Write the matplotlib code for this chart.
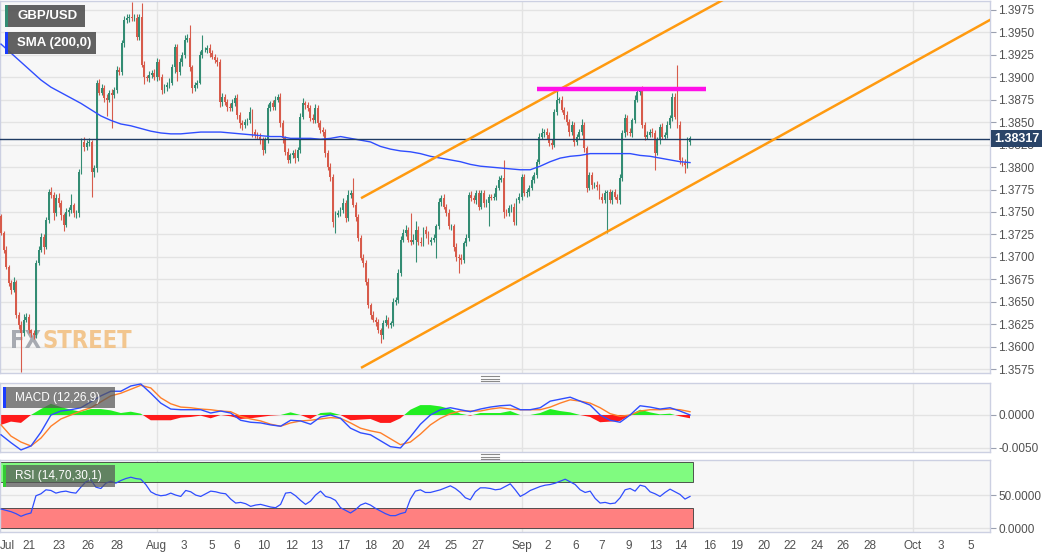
import numpy as np
import matplotlib
matplotlib.use('Agg')
from matplotlib import pyplot as plt
from matplotlib.lines import Line2D
from matplotlib.patches import Rectangle
from matplotlib.ticker import FormatStrFormatter

plt.rcParams['font.family'] = ['Liberation Sans', 'DejaVu Sans']

# GBP/USD 4H candles (open = previous close)
first_open = 1.3745
closes = [
    1.3727, 1.3708, 1.3689, 1.3671, 1.3663, 1.3672, 1.3635, 1.3624, 1.3615, 1.3630,
    1.3633, 1.3618, 1.3615, 1.3613, 1.3693, 1.3708, 1.3722, 1.3711, 1.3741, 1.3772,
    1.3769, 1.3749, 1.3766, 1.3760, 1.3747, 1.3736, 1.3750, 1.3752, 1.3758, 1.3749,
    1.3749, 1.3795, 1.3828, 1.3822, 1.3827, 1.3828, 1.3795, 1.3799, 1.3894, 1.3883,
    1.3888, 1.3877, 1.3875, 1.3883, 1.3880, 1.3886, 1.3908, 1.3906, 1.3938, 1.3964,
    1.3966, 1.3967, 1.3966, 1.3966, 1.3945, 1.3967, 1.3914, 1.3900, 1.3899, 1.3903,
    1.3905, 1.3900, 1.3917, 1.3900, 1.3886, 1.3889, 1.3891, 1.3894, 1.3911, 1.3934,
    1.3906, 1.3917, 1.3925, 1.3942, 1.3944, 1.3911, 1.3888, 1.3891, 1.3894, 1.3925,
    1.3930, 1.3930, 1.3933, 1.3927, 1.3923, 1.3919, 1.3917, 1.3873, 1.3878, 1.3873,
    1.3867, 1.3866, 1.3871, 1.3877, 1.3858, 1.3849, 1.3847, 1.3850, 1.3852, 1.3861,
    1.3839, 1.3836, 1.3834, 1.3830, 1.3819, 1.3830, 1.3866, 1.3871, 1.3867, 1.3875,
    1.3878, 1.3849, 1.3832, 1.3817, 1.3808, 1.3813, 1.3816, 1.3810, 1.3819, 1.3856,
    1.3871, 1.3869, 1.3866, 1.3855, 1.3852, 1.3866, 1.3849, 1.3841, 1.3839, 1.3816,
    1.3800, 1.3789, 1.3739, 1.3747, 1.3749, 1.3752, 1.3760, 1.3743, 1.3769, 1.3771,
    1.3758, 1.3744, 1.3721, 1.3699, 1.3693, 1.3672, 1.3646, 1.3635, 1.3630, 1.3627,
    1.3618, 1.3613, 1.3626, 1.3630, 1.3624, 1.3626, 1.3650, 1.3652, 1.3682, 1.3719,
    1.3727, 1.3730, 1.3719, 1.3717, 1.3719, 1.3730, 1.3717, 1.3715, 1.3730, 1.3725,
    1.3717, 1.3719, 1.3721, 1.3734, 1.3761, 1.3766, 1.3756, 1.3749, 1.3734, 1.3734,
    1.3711, 1.3700, 1.3699, 1.3696, 1.3715, 1.3721, 1.3769, 1.3766, 1.3763, 1.3771,
    1.3756, 1.3771, 1.3760, 1.3760, 1.3767, 1.3766, 1.3767, 1.3777, 1.3786, 1.3788,
    1.3750, 1.3749, 1.3754, 1.3756, 1.3739, 1.3763, 1.3767, 1.3789, 1.3771, 1.3772,
    1.3777, 1.3786, 1.3791, 1.3806, 1.3834, 1.3838, 1.3839, 1.3836, 1.3827, 1.3825,
    1.3861, 1.3875, 1.3875, 1.3864, 1.3858, 1.3850, 1.3839, 1.3847, 1.3828, 1.3834,
    1.3839, 1.3847, 1.3821, 1.3777, 1.3791, 1.3780, 1.3780, 1.3778, 1.3767, 1.3763,
    1.3771, 1.3772, 1.3763, 1.3772, 1.3767, 1.3763, 1.3788, 1.3838, 1.3855, 1.3839,
    1.3838, 1.3852, 1.3875, 1.3884, 1.3886, 1.3847, 1.3834, 1.3836, 1.3839, 1.3838,
    1.3816, 1.3830, 1.3845, 1.3834, 1.3836, 1.3847, 1.3855, 1.3878, 1.3856, 1.3847,
    1.3808, 1.3805, 1.3802, 1.3828, 1.3832,
]
# wick lengths in pips above / below the body
wick_up = [
    3, 2, 4, 2, 3, 5, 2, 3, 4, 6,   4, 3, 2, 3, 3, 4, 5, 3, 3, 4,
    6, 3, 4, 5, 3, 2, 4, 3, 12, 2,  3, 3, 4, 5, 3, 4, 2, 3, 3, 4,
    4, 3, 4, 3, 4, 3, 5, 4, 3, 4,   4, 3, 17, 5, 4, 4, 16, 4, 3, 4,
    3, 4, 5, 3, 4, 3, 4, 5, 4, 3,   3, 4, 3, 5, 4, 14, 3, 4, 3, 4,
    17, 4, 3, 4, 3, 3, 4, 3, 4, 3,  3, 4, 5, 3, 4, 3, 3, 4, 3, 6,
    4, 3, 3, 4, 3, 3, 4, 3, 4, 4,   3, 4, 3, 3, 4, 3, 3, 4, 3, 4,
    6, 3, 4, 3, 4, 4, 3, 3, 4, 3,   3, 4, 3, 4, 3, 4, 5, 3, 5, 4,
    17, 3, 4, 3, 4, 3, 4, 3, 5, 3,  4, 3, 4, 5, 3, 3, 4, 3, 5, 4,
    4, 5, 3, 30, 6, 10, 4, 5, 3, 4, 4, 3, 4, 3, 5, 3, 4, 3, 4, 3,
    3, 4, 3, 4, 3, 4, 3, 4, 3, 3,   3, 4, 3, 4, 3, 3, 4, 3, 4, 3,
    20, 3, 4, 3, 4, 3, 4, 3, 3, 4,  3, 4, 3, 3, 4, 5, 3, 4, 3, 4,
    4, 11, 3, 4, 3, 4, 3, 4, 3, 3,  3, 6, 3, 3, 4, 3, 3, 4, 3, 4,
    4, 3, 4, 3, 4, 3, 4, 3, 4, 3,   4, 3, 5, 3, 3, 4, 3, 4, 3, 4,
    3, 4, 3, 4, 3, 4, 3, 5, 4, 58,  4, 3, 4, 5, 3,
]
wick_down = [
    3, 4, 2, 3, 4, 2, 3, 4, 43, 3,  3, 3, 4, 5, 3, 2, 3, 8, 2, 3,
    4, 8, 3, 4, 6, 7, 3, 4, 3, 5,   6, 5, 3, 4, 3, 3, 28, 6, 4, 3,
    3, 4, 18, 3, 36, 3, 4, 3, 3, 4, 3, 4, 3, 3, 4, 3, 3, 8, 3, 4,
    4, 3, 4, 3, 5, 3, 4, 3, 3, 6,   10, 3, 4, 3, 3, 4, 6, 3, 3, 2,
    3, 2, 3, 4, 3, 3, 4, 6, 5, 4,   5, 3, 4, 3, 4, 5, 6, 4, 3, 3,
    5, 4, 3, 4, 5, 3, 3, 4, 3, 3,   3, 4, 5, 4, 3, 3, 3, 5, 3, 3,
    3, 4, 3, 4, 3, 3, 4, 3, 4, 5,   3, 4, 6, 12, 3, 4, 3, 4, 3, 3,
    3, 4, 3, 3, 4, 3, 3, 4, 3, 4,   3, 9, 4, 3, 3, 3, 3, 4, 3, 3,
    3, 4, 3, 4, 3, 25, 4, 3, 3, 4,  3, 4, 3, 22, 3, 4, 3, 4, 3, 4,
    4, 5, 17, 4, 3, 3, 3, 4, 3, 4,  4, 3, 4, 4, 26, 3, 3, 4, 3, 3,
    7, 4, 3, 4, 4, 3, 3, 4, 3, 4,   4, 3, 4, 3, 3, 3, 4, 5, 3, 5,
    3, 3, 4, 3, 4, 3, 4, 3, 4, 3,   3, 3, 4, 5, 3, 4, 3, 4, 3, 3,
    3, 44, 3, 4, 3, 3, 4, 3, 4, 3,  3, 4, 3, 3, 4, 3, 4, 3, 3, 4,
    19, 3, 4, 3, 3, 4, 3, 4, 3, 4,  5, 4, 9, 3, 3,
]

# indicators, sampled evenly across the candles
sma_200 = [
    1.3937, 1.3927, 1.3917, 1.3907, 1.3897, 1.3889, 1.3883, 1.3877, 1.3871, 1.3864,
    1.3857, 1.3852, 1.3848, 1.3846, 1.3843, 1.3840, 1.3838, 1.3837, 1.3837, 1.3838,
    1.3839, 1.3839, 1.3839, 1.3838, 1.3837, 1.3836, 1.3835, 1.3834, 1.3834, 1.3832,
    1.3832, 1.3832, 1.3831, 1.3832, 1.3834, 1.3832, 1.3830, 1.3828, 1.3823, 1.3820,
    1.3818, 1.3817, 1.3815, 1.3812, 1.3810, 1.3808, 1.3806, 1.3803, 1.3801, 1.3800,
    1.3799, 1.3798, 1.3797, 1.3797, 1.3801, 1.3806, 1.3810, 1.3812, 1.3813, 1.3815,
    1.3815, 1.3815, 1.3815, 1.3815, 1.3813, 1.3812, 1.3810, 1.3808, 1.3806, 1.3805,
]
macd_line = [
    -0.0030, -0.0042, -0.0053, -0.0047, -0.0026, 0.0000, 0.0006, 0.0008, 0.0011, 0.0020,
    0.0029, 0.0036, 0.0036, 0.0044, 0.0047, 0.0033, 0.0018, 0.0009, 0.0008, 0.0008,
    0.0008, 0.0003, 0.0006, 0.0003, -0.0008, -0.0011, -0.0012, -0.0015, -0.0017, -0.0008,
    -0.0009, -0.0014, -0.0003, 0.0000, -0.0005, -0.0020, -0.0027, -0.0030, -0.0039, -0.0048,
    -0.0050, -0.0033, -0.0014, 0.0000, 0.0008, 0.0011, 0.0008, 0.0005, 0.0009, 0.0012,
    0.0014, 0.0015, 0.0008, 0.0008, 0.0011, 0.0021, 0.0024, 0.0027, 0.0021, 0.0015,
    0.0000, -0.0008, -0.0011, 0.0000, 0.0014, 0.0012, 0.0009, 0.0011, 0.0006, 0.0000,
]
macd_signal = [
    -0.0015, -0.0032, -0.0041, -0.0047, -0.0035, -0.0017, -0.0006, 0.0000, 0.0006, 0.0011,
    0.0020, 0.0029, 0.0033, 0.0039, 0.0045, 0.0041, 0.0026, 0.0017, 0.0012, 0.0011,
    0.0009, 0.0008, 0.0006, 0.0005, -0.0002, -0.0006, -0.0009, -0.0014, -0.0017, -0.0012,
    -0.0009, -0.0008, -0.0006, -0.0004, -0.0005, -0.0012, -0.0020, -0.0024, -0.0027, -0.0036,
    -0.0045, -0.0041, -0.0029, -0.0015, -0.0005, 0.0002, 0.0006, 0.0006, 0.0006, 0.0009,
    0.0011, 0.0009, 0.0008, 0.0008, 0.0008, 0.0012, 0.0018, 0.0023, 0.0021, 0.0018,
    0.0011, 0.0002, -0.0002, 0.0000, 0.0006, 0.0008, 0.0008, 0.0009, 0.0008, 0.0005,
]
rsi_line = [
    29, 27, 25, 22, 18, 21, 23, 49, 52, 58,
    57, 53, 55, 56, 54, 53, 62, 70, 73, 62,
    60, 68, 71, 68, 72, 75, 77, 75, 74, 66,
    55, 51, 49, 50, 53, 50, 48, 57, 55, 50,
    48, 52, 56, 55, 53, 52, 44, 38, 39, 37,
    33, 35, 36, 34, 32, 31, 36, 53, 54, 49,
    42, 36, 41, 50, 56, 48, 46, 42, 31, 27,
    23, 28, 35, 38, 35, 30, 26, 22, 19, 19,
    22, 24, 44, 56, 58, 54, 54, 56, 58, 61,
    64, 60, 54, 46, 43, 55, 61, 61, 60, 58,
    59, 63, 67, 58, 48, 52, 57, 60, 63, 65,
    66, 68, 71, 74, 70, 66, 58, 54, 56, 45,
    38, 39, 37, 38, 46, 58, 60, 56, 65, 63,
    55, 52, 48, 54, 59, 55, 51, 44, 48,
]

last_price = 1.38317
resistance_level = 1.3887
resistance_bars = (213.2, 280.4)
channel_upper = [(143.6, 1.3766), (300.0, 1.4006)]
channel_lower = [(143.6, 1.3577), (394.0, 1.3965)]

date_labels = ['Jul', '21', '23', '26', '28', 'Aug', '3', '5', '6', '10', '12', '13',
               '17', '18', '20', '24', '25', '27', 'Sep', '2', '6', '7', '9', '13',
               '14', '16', '19', '20', '22', '24', '26', '28', 'Oct', '3', '5']
date_pos = [2.4, 11.1, 23.1, 34.6, 46.1, 62.0, 72.8, 83.9, 93.9, 104.6, 115.7, 125.7,
            136.4, 147.1, 157.9, 168.2, 179.0, 189.7, 207.2, 217.5, 228.7, 239.0, 249.7,
            260.5, 270.4, 281.9, 292.7, 303.4, 313.8, 324.5, 334.8, 345.6, 362.7, 373.8,
            385.7]

GREEN = '#338c73'
RED = '#d75b4b'
PANEL = '#f7f7f7'
SPINE = '#ccd0e2'
GRID = '#e3e3e3'

W, H = 1060, 555
fig = plt.figure(figsize=(W / 100, H / 100), dpi=100, facecolor='white')


def px_rect(x0, y0, x1, y1):
    return [x0 / W, 1 - y1 / H, (x1 - x0) / W, (y1 - y0) / H]


ax = fig.add_axes(px_rect(0, 1, 990, 373))
ax_macd = fig.add_axes(px_rect(0, 383, 990, 452), sharex=ax)
ax_rsi = fig.add_axes(px_rect(0, 460, 990, 532), sharex=ax)

for a in (ax, ax_macd, ax_rsi):
    a.set_facecolor(PANEL)
    for s in a.spines.values():
        s.set_color(SPINE)
        s.set_linewidth(1)
    a.yaxis.tick_right()
    a.tick_params(axis='y', direction='out', length=4, width=0.8, color='#9aa0b0',
                  labelsize=8.5, labelcolor='#505050', pad=2)
    a.tick_params(axis='x', length=0)
    a.grid(axis='y', color=GRID, lw=1)
    a.set_axisbelow(True)
    for lab, pos in zip(date_labels, date_pos):
        if lab in ('Aug', 'Sep', 'Oct'):
            a.axvline(pos, color=GRID, lw=1, zorder=0)

n = len(closes)
x = np.arange(n)
c = np.array(closes)
o = np.array([first_open] + closes[:-1])
hi = np.maximum(o, c) + np.array(wick_up) / 10000
lo = np.minimum(o, c) - np.array(wick_down) / 10000
colors = np.where(c >= o, GREEN, RED)

# watermark behind the candles
wm_font = dict(fontsize=17, fontweight='bold', fontstretch='condensed',
               family=['DejaVu Sans', 'Liberation Sans'], va='center', zorder=1,
               transform=ax.transAxes, alpha=0.9)
ax.text(41 / 990, 32 / 372, 'FX', color='#9ea2aa', ha='right', **wm_font)
ax.text(43 / 990, 32 / 372, 'STREET', color='#f2c184', ha='left', **wm_font)

# candles
ax.vlines(x, lo, hi, colors=colors, lw=0.8, zorder=3)
body = np.maximum(np.abs(c - o), 0.00004)
ax.bar(x, body, bottom=np.minimum(o, c), width=0.74, color=colors, lw=0, zorder=4)

xi = np.linspace(0, n - 1, len(sma_200))
ax.plot(xi, sma_200, color='#2f4dff', lw=1, zorder=5)

ax.axhline(last_price, color='#1f3b63', lw=1, zorder=6)
ax.plot([p[0] for p in channel_upper], [p[1] for p in channel_upper], color='#ff9a10', lw=1.8, zorder=7)
ax.plot([p[0] for p in channel_lower], [p[1] for p in channel_lower], color='#ff9a10', lw=1.8, zorder=7)
ax.plot(resistance_bars, [resistance_level] * 2, color='#ff10e8', lw=3.2,
        solid_capstyle='butt', zorder=7)

ax.set_xlim(-0.4, 393.3)
ax.set_ylim(1.35706, 1.39850)
ax.set_yticks(np.arange(1.3575, 1.39751, 0.0025))
ax.yaxis.set_major_formatter(FormatStrFormatter('%.4f'))
ax.tick_params(axis='x', labelbottom=False)
ax.text(1.004, last_price, '1.38317', transform=ax.get_yaxis_transform(), ha='left',
        va='center', color='white', fontsize=9, fontweight='bold', zorder=20, clip_on=False,
        bbox=dict(boxstyle='square,pad=0.22', fc='#2a4468', ec='none'))

# MACD panel
mi = np.linspace(0, n - 1, len(macd_line))
hist = np.array(macd_line) - np.array(macd_signal)
ax_macd.fill_between(mi, 0, hist, where=hist >= 0, interpolate=True, color='#22ee22', lw=0, zorder=2)
ax_macd.fill_between(mi, 0, hist, where=hist < 0, interpolate=True, color='#ff1a1a', lw=0, zorder=2)
ax_macd.plot(mi, macd_signal, color='#ff7f2a', lw=1, zorder=3)
ax_macd.plot(mi, macd_line, color='#2f4dff', lw=1, zorder=4)
ax_macd.set_ylim(-0.00561, 0.00485)
ax_macd.set_yticks([-0.005, 0.0])
ax_macd.yaxis.set_major_formatter(FormatStrFormatter('%.4f'))
ax_macd.tick_params(axis='x', labelbottom=False)

# RSI panel
ri = np.linspace(0, n - 1, len(rsi_line))
band_end = n + 0.2
ax_rsi.add_patch(Rectangle((-0.4, 70), band_end + 0.4, 30, fc='#80fb80', ec='#3a3a3a', lw=0.6, zorder=1))
ax_rsi.add_patch(Rectangle((-0.4, 0), band_end + 0.4, 30, fc='#ff8080', ec='#3a3a3a', lw=0.6, zorder=1))
ax_rsi.plot(ri, rsi_line, color='#2f4dff', lw=0.9, zorder=4)
ax_rsi.set_ylim(-5.7, 103)
ax_rsi.set_yticks([0, 50])
ax_rsi.yaxis.set_major_formatter(FormatStrFormatter('%.4f'))
ax_rsi.set_xticks(date_pos)
ax_rsi.set_xticklabels(date_labels)
ax_rsi.tick_params(axis='x', labelsize=8.5, labelcolor='#505050', pad=6)


# legend boxes in the top-left corners
def label_box(x0, y0, w, h, text, stripe, alpha, size, weight):
    fig.add_artist(Rectangle((x0 / W, 1 - (y0 + h) / H), w / W, h / H, transform=fig.transFigure,
                             fc='#555555', ec='none', alpha=alpha, zorder=30))
    fig.add_artist(Rectangle((x0 / W, 1 - (y0 + h) / H), 3 / W, h / H, transform=fig.transFigure,
                             fc=stripe, ec='none', zorder=31))
    fig.text((x0 + 12) / W, 1 - (y0 + h / 2) / H, text, color='white', fontsize=size,
             fontweight=weight, va='center', ha='left', zorder=32)


label_box(5, 5, 80, 22, 'GBP/USD', GREEN, 0.92, 9.5, 'bold')
label_box(5, 32, 91, 22, 'SMA (200,0)', '#1a3cff', 0.92, 9.5, 'bold')
label_box(3, 387, 112, 21, 'MACD (12,26,9)', '#1a3cff', 0.72, 8.5, 'normal')
label_box(3, 465, 112, 22, 'RSI (14,70,30,1)', '#33cc33', 0.72, 8.5, 'normal')

# panel resize handles
for yy in (376, 378.5, 381, 454, 456.5, 459):
    fig.add_artist(Line2D([481 / W, 499 / W], [1 - yy / H] * 2, color='#8a8a8a', lw=0.8))

fig.savefig('out.png', dpi=100, facecolor='white')
